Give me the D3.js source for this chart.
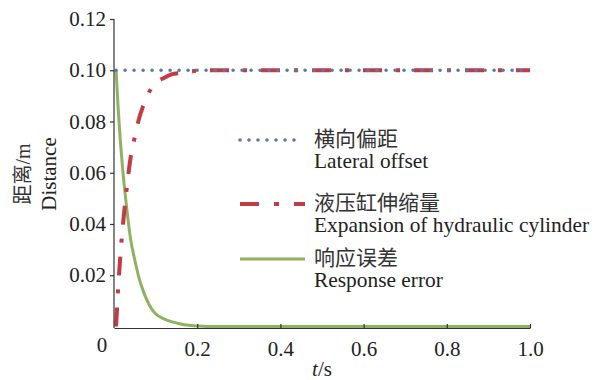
<!DOCTYPE html>
<html>
<head>
<meta charset="utf-8">
<script src="https://cdn.jsdelivr.net/npm/d3@7"></script>
<style>
  body { margin: 0; background: #fff; }
</style>
</head>
<body>
<div id="chart"></div>
<script>
// data (t in seconds, distance in metres)
const tLateral = [0.005, 1.0];
const lateralOffset = [0.1, 0.1];

const tResp = [0.005, 0.01, 0.015, 0.02, 0.03, 0.04, 0.05, 0.06, 0.07, 0.08, 0.09, 0.10,
  0.12, 0.14, 0.16, 0.18, 0.20, 0.25, 0.3, 0.4, 0.5, 0.6, 0.7, 0.8, 0.9, 1.0];
const expansion = [0, 0.015, 0.027, 0.037, 0.053, 0.066, 0.074, 0.081, 0.086, 0.090, 0.093, 0.095,
  0.097, 0.0985, 0.099, 0.0995, 0.0998, 0.1, 0.1, 0.1, 0.1, 0.1, 0.1, 0.1, 0.1, 0.1];
const responseError = [0.1, 0.085, 0.073, 0.063, 0.047, 0.034, 0.026, 0.019, 0.014, 0.010, 0.007, 0.005,
  0.003, 0.0018, 0.001, 0.0005, 0.0002, 0, 0, 0, 0, 0, 0, 0, 0, 0];

const xTicks = [0.2, 0.4, 0.6, 0.8, 1.0];
const yTicks = [0.02, 0.04, 0.06, 0.08, 0.10, 0.12];

const legendItems = [
  { zh: '横向偏距', en: 'Lateral offset', key: 'lateral' },
  { zh: '液压缸伸缩量', en: 'Expansion of hydraulic cylinder', key: 'expansion' },
  { zh: '响应误差', en: 'Response error', key: 'error' },
];

const styles = {
  lateral: { stroke: '#5a78a8', width: 3.6, dash: '0 9', cap: 'round' },
  expansion: { stroke: '#c23b45', width: 4, dash: '19 14 4 14', cap: 'butt' },
  error: { stroke: '#8fb262', width: 3, dash: null, cap: 'butt' },
};

const FONT = '"Liberation Serif", "Times New Roman", "Noto Sans CJK SC", serif';

const width = 604, height = 380;
const svg = d3.select('#chart').append('svg')
  .attr('width', width).attr('height', height)
  .attr('font-family', FONT);

const x = d3.scaleLinear().domain([0, 1]).range([114, 530]);
const y = d3.scaleLinear().domain([0, 0.12]).range([326.5, 19]);

const line = d3.line()
  .x(d => x(d[0]))
  .y(d => y(d[1]))
  .curve(d3.curveMonotoneX);

function draw(ts, vs, key) {
  const s = styles[key];
  svg.append('path')
    .datum(ts.map((t, i) => [t, vs[i]]))
    .attr('d', line)
    .attr('fill', 'none')
    .attr('stroke', s.stroke)
    .attr('stroke-width', s.width)
    .attr('stroke-linecap', s.cap)
    .attr('stroke-dasharray', s.dash);
}

draw(tResp, responseError, 'error');
draw(tResp, expansion, 'expansion');
draw(tLateral, lateralOffset, 'lateral');

// axes
const yAxis = svg.append('g')
  .attr('transform', `translate(${x(0)},0)`)
  .call(d3.axisLeft(y).tickValues(yTicks).tickFormat(d3.format('.2f'))
    .tickSize(4).tickPadding(4).tickSizeOuter(0));
yAxis.select('.domain').attr('d', `M0,${y(0.12)}V328`);

const xAxis = svg.append('g')
  .attr('transform', 'translate(0,328)')
  .call(d3.axisBottom(x).tickValues(xTicks).tickFormat(d3.format('.1f'))
    .tickSize(-4).tickSizeOuter(0));
xAxis.selectAll('.tick text').attr('y', 13);

svg.selectAll('g').attr('font-family', FONT).attr('font-size', 21);
svg.selectAll('.domain, .tick line').attr('stroke', '#333').attr('stroke-width', 1.2);
svg.selectAll('.tick text').attr('fill', '#222');

svg.append('text')
  .attr('x', 102).attr('y', 352)
  .attr('text-anchor', 'middle')
  .attr('font-size', 21).attr('fill', '#222')
  .text('0');

// axis titles
const xt = svg.append('text')
  .attr('x', 322).attr('y', 376)
  .attr('text-anchor', 'middle')
  .attr('font-size', 21).attr('fill', '#222');
xt.append('tspan').attr('font-style', 'italic').text('t');
xt.append('tspan').text('/s');

svg.append('text')
  .attr('transform', 'translate(30,174) rotate(-90)')
  .attr('text-anchor', 'middle')
  .attr('font-size', 20).attr('fill', '#333')
  .text('距离/m');
svg.append('text')
  .attr('transform', 'translate(56,174) rotate(-90)')
  .attr('text-anchor', 'middle')
  .attr('font-size', 21).attr('fill', '#222')
  .text('Distance');

// legend
const legendBase = [146, 210, 265];
legendItems.forEach((it, i) => {
  const s = styles[it.key];
  const by = legendBase[i];
  svg.append('line')
    .attr('x1', 240).attr('x2', it.key === 'lateral' ? 302 : 305)
    .attr('y1', by - 6).attr('y2', by - 6)
    .attr('stroke', s.stroke)
    .attr('stroke-width', s.width)
    .attr('stroke-linecap', s.cap)
    .attr('stroke-dasharray', it.key === 'expansion' ? '19 15 5 15' : s.dash);
  svg.append('text')
    .attr('x', 314).attr('y', by)
    .attr('font-size', 21).attr('fill', '#333')
    .text(it.zh);
  svg.append('text')
    .attr('x', 314).attr('y', by + 22)
    .attr('font-size', 21.4).attr('fill', '#222')
    .text(it.en);
});
</script>
</body>
</html>
